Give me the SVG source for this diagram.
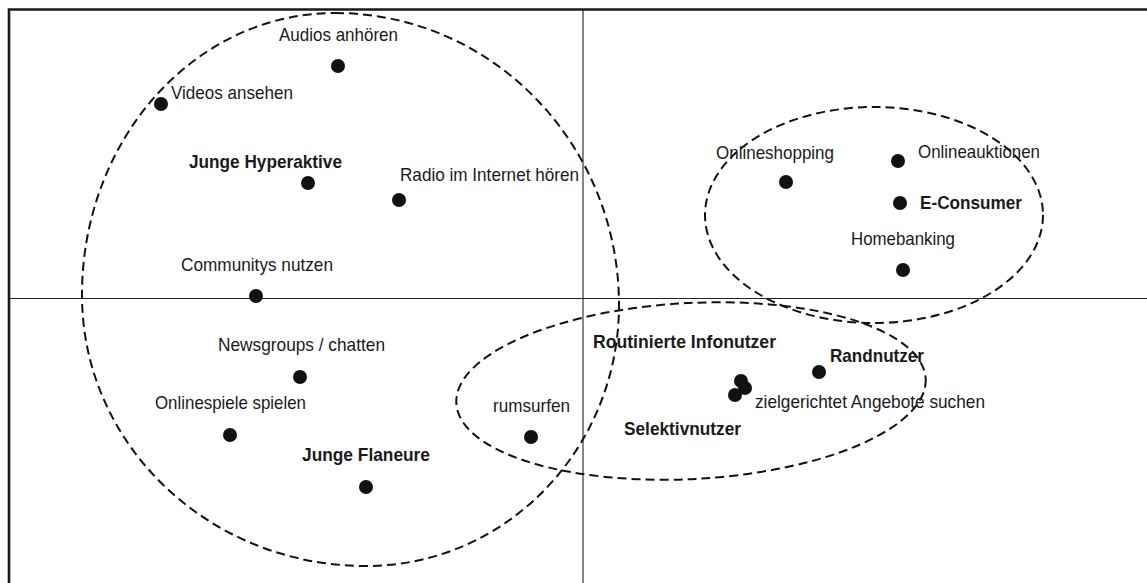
<svg xmlns="http://www.w3.org/2000/svg" width="1147" height="583" viewBox="0 0 1147 583">
<style>
text{font-family:"Liberation Sans",Arial,sans-serif;font-size:18.5px;fill:#1a1a1a}
.b{font-weight:bold}
.dot{fill:#111}
.frame{stroke:#1a1a1a;stroke-width:2.6;fill:none}
.axis{stroke:#222;stroke-width:1.1;fill:none}
.cl{stroke:#111;stroke-width:2;fill:none;stroke-dasharray:9 5}
</style>
<rect width="1147" height="583" fill="#fff"/>
<g id="frame">
<path class="frame" d="M9,583 V9.5 H1147"/>
<line class="axis" x1="583" y1="10" x2="583" y2="583"/>
<line class="axis" x1="9" y1="298.5" x2="1147" y2="298.5"/>
</g>
<g id="clusters">
<path id="cluster-junge" class="cl" d="M335,13 C492,13 619,144 619,305 C619,449 506,566 366,566 C209,566 82,445 82,295 C82,139 195,13 335,13 Z"/>
<ellipse id="cluster-econsumer" class="cl" cx="874" cy="215" rx="169" ry="108"/>
<ellipse id="cluster-info" class="cl" cx="691" cy="391" rx="235" ry="88" transform="rotate(-3 691 391)"/>
</g>
<g id="n-audios"><circle class="dot" cx="338" cy="66" r="7"/><text x="279" y="41" textLength="119" lengthAdjust="spacingAndGlyphs">Audios anhören</text></g>
<g id="n-videos"><circle class="dot" cx="161" cy="104" r="7"/><text x="171" y="99" textLength="122" lengthAdjust="spacingAndGlyphs">Videos ansehen</text></g>
<g id="n-junge-hyperaktive"><circle class="dot" cx="308" cy="183" r="7"/><text class="b" x="189" y="168" textLength="153" lengthAdjust="spacingAndGlyphs">Junge Hyperaktive</text></g>
<g id="n-radio"><circle class="dot" cx="399" cy="200" r="7"/><text x="400" y="181" textLength="179" lengthAdjust="spacingAndGlyphs">Radio im Internet hören</text></g>
<g id="n-communitys"><circle class="dot" cx="256" cy="296" r="7"/><text x="181" y="271" textLength="152" lengthAdjust="spacingAndGlyphs">Communitys nutzen</text></g>
<g id="n-onlineshopping"><circle class="dot" cx="786" cy="182" r="7"/><text x="716" y="159" textLength="118" lengthAdjust="spacingAndGlyphs">Onlineshopping</text></g>
<g id="n-onlineauktionen"><circle class="dot" cx="898" cy="161" r="7"/><text x="918" y="158" textLength="122" lengthAdjust="spacingAndGlyphs">Onlineauktionen</text></g>
<g id="n-econsumer"><circle class="dot" cx="900" cy="203" r="7"/><text class="b" x="920" y="209" textLength="102" lengthAdjust="spacingAndGlyphs">E-Consumer</text></g>
<g id="n-homebanking"><circle class="dot" cx="903" cy="270" r="7"/><text x="851" y="245" textLength="104" lengthAdjust="spacingAndGlyphs">Homebanking</text></g>
<g id="n-newsgroups"><circle class="dot" cx="300" cy="377" r="7"/><text x="218" y="351" textLength="167" lengthAdjust="spacingAndGlyphs">Newsgroups / chatten</text></g>
<g id="n-onlinespiele"><circle class="dot" cx="230" cy="435" r="7"/><text x="155" y="409" textLength="151" lengthAdjust="spacingAndGlyphs">Onlinespiele spielen</text></g>
<g id="n-junge-flaneure"><circle class="dot" cx="366" cy="487" r="7"/><text class="b" x="302" y="461" textLength="128" lengthAdjust="spacingAndGlyphs">Junge Flaneure</text></g>
<g id="n-rumsurfen"><circle class="dot" cx="531" cy="437" r="7"/><text x="493" y="412" textLength="77" lengthAdjust="spacingAndGlyphs">rumsurfen</text></g>
<g id="n-routinierte"><circle class="dot" cx="741" cy="381" r="7"/><text class="b" x="593" y="348" textLength="183" lengthAdjust="spacingAndGlyphs">Routinierte Infonutzer</text></g>
<g id="n-zielgerichtet"><circle class="dot" cx="745" cy="388" r="7"/><text x="755" y="408" textLength="230" lengthAdjust="spacingAndGlyphs">zielgerichtet Angebote suchen</text></g>
<g id="n-selektiv"><circle class="dot" cx="735" cy="395" r="7"/><text class="b" x="624" y="435" textLength="117" lengthAdjust="spacingAndGlyphs">Selektivnutzer</text></g>
<g id="n-randnutzer"><circle class="dot" cx="819" cy="372" r="7"/><text class="b" x="830" y="362" textLength="94" lengthAdjust="spacingAndGlyphs">Randnutzer</text></g>
</svg>
